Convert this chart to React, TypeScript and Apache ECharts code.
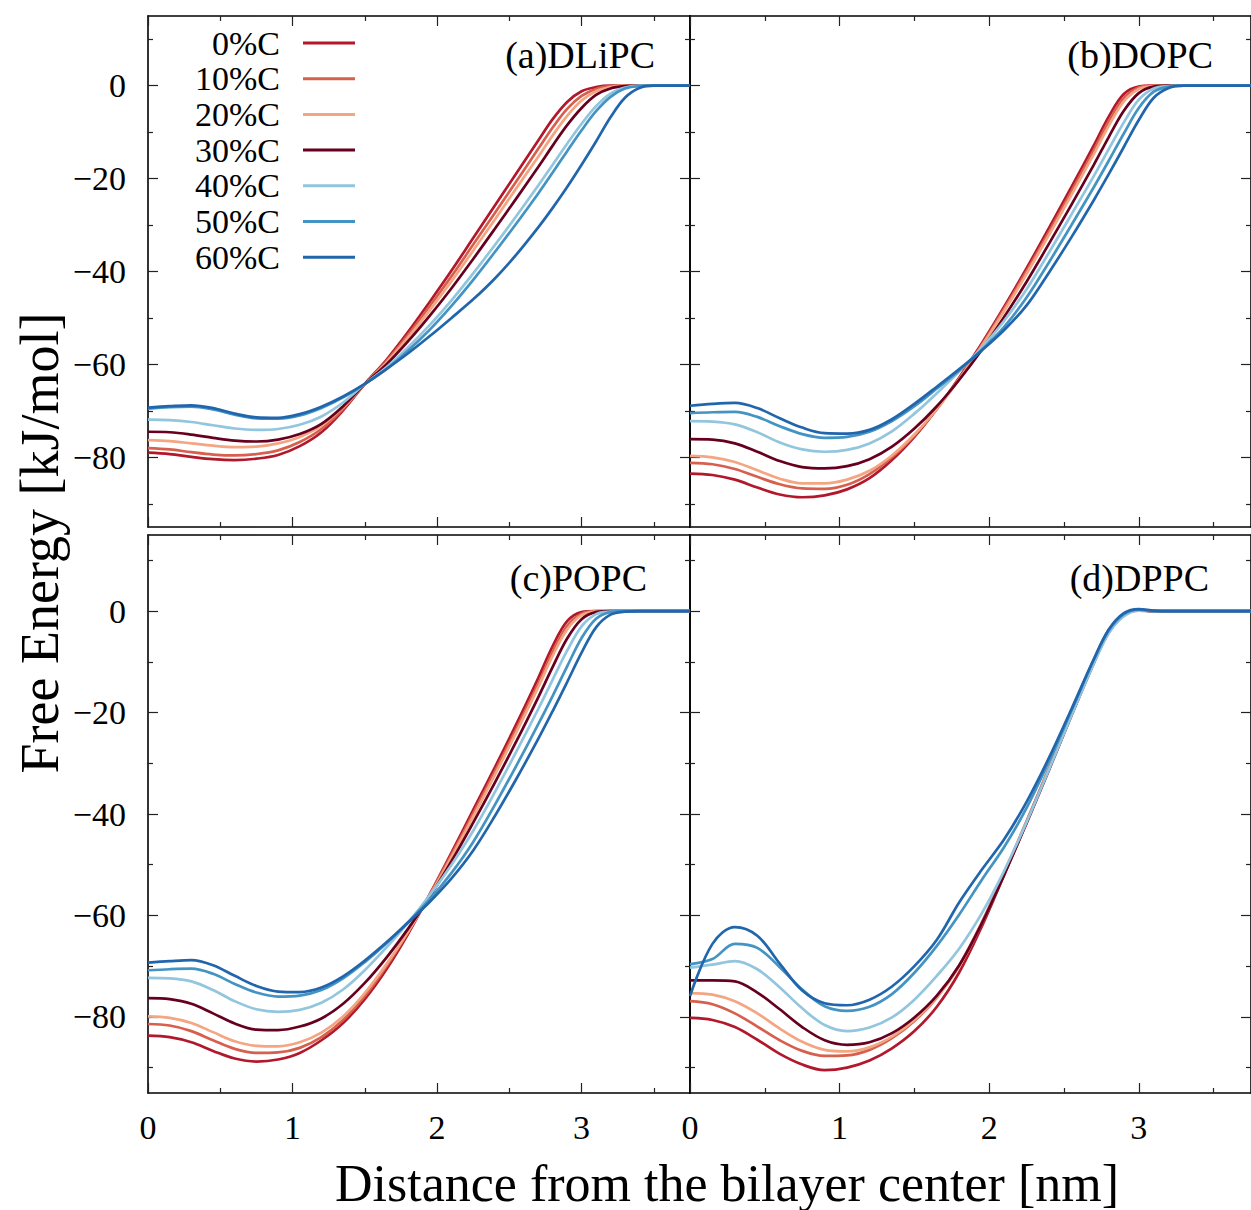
import React, { useEffect, useRef } from "react";
import * as echarts from "echarts";

// ---------- DATA ----------
const distance = [0, 0.15, 0.3, 0.45, 0.6, 0.75, 0.9, 1.05, 1.2, 1.35, 1.5, 1.65, 1.8, 1.95, 2.1, 2.25, 2.4, 2.55, 2.7, 2.8, 2.9, 3.0, 3.1, 3.2, 3.3, 3.4, 3.5, 3.6, 3.75];
const seriesNames = ["0%C", "10%C", "20%C", "30%C", "40%C", "50%C", "60%C"];
const seriesColors = ["#b2182b", "#d6604d", "#f4a582", "#67001f", "#92c5de", "#4393c3", "#2166ac"];
const panelTitles = ["(a)DLiPC", "(b)DOPC", "(c)POPC", "(d)DPPC"];
const xMajorTicks = [0, 1, 2, 3];
const xMinorTicks = [0.5, 1.5, 2.5, 3.5];
const yMajorTicks = [-80, -60, -40, -20, 0];
const yMinorTicks = [-90, -70, -50, -30, -10, 10];

// (a) DLiPC
const dlipc0 = [-79.0, -79.3, -79.9, -80.4, -80.6, -80.3, -79.5, -77.6, -74.6, -69.9, -64.2, -59.0, -53.0, -46.5, -39.8, -32.8, -25.8, -18.8, -11.8, -7.2, -3.5, -1.2, -0.3, 0, 0, 0, 0, 0, 0];
const dlipc10 = [-78.0, -78.3, -78.9, -79.4, -79.6, -79.3, -78.5, -76.7, -73.9, -69.6, -64.2, -59.3, -53.6, -47.4, -41.0, -34.2, -27.4, -20.5, -13.6, -9.0, -5.0, -2.2, -0.7, -0.1, 0, 0, 0, 0, 0];
const dlipc20 = [-76.3, -76.5, -77.0, -77.5, -77.8, -77.7, -77.0, -75.6, -73.2, -69.2, -64.2, -59.6, -54.2, -48.3, -42.1, -35.5, -28.8, -22.0, -15.3, -10.7, -6.5, -3.2, -1.2, -0.3, 0, 0, 0, 0, 0];
const dlipc30 = [-74.5, -74.6, -75.1, -75.8, -76.4, -76.6, -76.2, -75.0, -72.8, -69.0, -64.2, -60.0, -55.0, -49.5, -43.6, -37.3, -30.8, -24.2, -17.5, -12.9, -8.5, -4.8, -2.0, -0.6, -0.1, 0, 0, 0, 0];
const dlipc40 = [-71.9, -72.0, -72.4, -73.1, -73.8, -74.1, -73.9, -73.0, -71.2, -68.2, -64.2, -60.6, -56.3, -51.5, -46.2, -40.4, -34.3, -28.0, -21.5, -17.0, -12.5, -8.2, -4.4, -1.7, -0.4, 0, 0, 0, 0];
const dlipc50 = [-69.5, -69.2, -69.1, -69.7, -70.8, -71.6, -71.7, -71.0, -69.4, -67.1, -64.2, -61.0, -57.0, -52.5, -47.4, -41.8, -35.8, -29.6, -23.2, -18.7, -14.1, -9.6, -5.5, -2.4, -0.6, -0.1, 0, 0, 0];
const dlipc60 = [-69.3, -69.0, -68.8, -69.4, -70.6, -71.4, -71.5, -70.7, -69.1, -66.9, -64.2, -61.0, -57.6, -53.9, -50.0, -46.0, -41.5, -36.3, -30.5, -26.3, -21.8, -17.0, -12.0, -6.8, -2.6, -0.5, 0, 0, 0];

// (b) DOPC
const dopc0 = [-83.5, -83.8, -84.8, -86.5, -88.0, -88.6, -88.2, -86.9, -84.5, -80.6, -75.6, -69.6, -62.8, -55.5, -47.6, -39.3, -30.6, -21.8, -12.8, -6.6, -1.8, -0.2, 0, 0, 0, 0, 0, 0, 0];
const dopc10 = [-81.2, -81.5, -82.5, -84.2, -85.8, -86.7, -86.8, -85.9, -83.6, -80.0, -75.3, -69.6, -63.0, -55.8, -48.0, -39.9, -31.4, -22.7, -13.8, -7.6, -2.6, -0.4, 0, 0, 0, 0, 0, 0, 0];
const dopc20 = [-79.7, -80.0, -81.0, -82.8, -84.6, -85.6, -85.6, -84.8, -82.9, -79.6, -75.1, -69.6, -63.2, -56.1, -48.5, -40.5, -32.1, -23.5, -14.7, -8.6, -3.4, -0.7, -0.1, 0, 0, 0, 0, 0, 0];
const dopc30 = [-76.1, -76.2, -77.0, -78.8, -80.8, -82.1, -82.4, -81.9, -80.4, -77.7, -73.8, -69.0, -63.3, -56.9, -49.8, -42.2, -34.0, -25.6, -17.0, -11.0, -5.4, -1.6, -0.2, 0, 0, 0, 0, 0, 0];
const dopc40 = [-72.2, -72.3, -72.9, -74.6, -76.8, -78.3, -78.8, -78.4, -77.0, -74.4, -70.6, -66.2, -61.5, -56.4, -50.6, -43.8, -35.9, -27.7, -19.4, -13.6, -7.9, -3.0, -0.6, -0.1, 0, 0, 0, 0, 0];
const dopc50 = [-70.5, -70.3, -70.2, -71.3, -73.3, -75.0, -75.8, -75.6, -74.5, -72.2, -69.0, -65.2, -61.3, -56.9, -51.9, -45.6, -38.0, -30.0, -21.8, -16.1, -10.3, -4.8, -1.3, -0.2, 0, 0, 0, 0, 0];
const dopc60 = [-68.9, -68.5, -68.3, -69.4, -71.6, -73.6, -74.8, -74.9, -74.1, -71.8, -68.5, -64.8, -61.0, -57.0, -52.6, -47.3, -40.2, -32.6, -24.6, -19.0, -13.2, -7.4, -2.6, -0.5, 0, 0, 0, 0, 0];

// (c) POPC
const popc0 = [-83.7, -84.0, -85.0, -86.7, -88.2, -88.8, -88.4, -87.1, -84.6, -81.2, -76.5, -70.6, -63.6, -55.8, -47.6, -39.2, -30.8, -22.2, -13.2, -6.9, -2.0, -0.2, 0, 0, 0, 0, 0, 0, 0];
const popc10 = [-81.4, -81.7, -82.8, -84.6, -86.3, -87.1, -87.0, -86.1, -84.0, -80.6, -75.9, -70.0, -63.2, -55.8, -48.0, -39.9, -31.6, -23.1, -14.3, -8.0, -2.9, -0.5, 0, 0, 0, 0, 0, 0, 0];
const popc20 = [-79.9, -80.2, -81.2, -83.0, -84.8, -85.7, -85.8, -85.0, -83.1, -79.9, -75.3, -69.6, -63.2, -56.1, -48.5, -40.5, -32.3, -23.8, -15.0, -8.8, -3.6, -0.8, -0.1, 0, 0, 0, 0, 0, 0];
const popc30 = [-76.3, -76.5, -77.4, -79.3, -81.3, -82.5, -82.6, -81.9, -80.3, -77.4, -73.3, -68.3, -62.6, -56.3, -49.3, -41.7, -33.8, -25.6, -17.0, -11.0, -5.4, -1.6, -0.2, 0, 0, 0, 0, 0, 0];
const popc40 = [-72.3, -72.4, -73.0, -74.7, -76.9, -78.5, -79.0, -78.6, -77.2, -74.6, -70.8, -66.3, -61.4, -56.0, -50.0, -43.3, -35.7, -27.6, -19.3, -13.5, -7.8, -3.0, -0.6, -0.1, 0, 0, 0, 0, 0];
const popc50 = [-70.8, -70.6, -70.5, -71.5, -73.5, -75.2, -76.0, -75.8, -74.7, -72.4, -69.2, -65.5, -61.3, -56.8, -51.6, -45.5, -38.2, -30.4, -22.3, -16.7, -10.9, -5.3, -1.5, -0.2, 0, 0, 0, 0, 0];
const popc60 = [-69.3, -69.0, -68.8, -69.8, -71.9, -73.9, -75.0, -75.1, -74.2, -72.0, -68.9, -65.3, -61.4, -57.3, -52.7, -47.2, -40.4, -33.0, -25.2, -19.7, -14.0, -8.2, -3.2, -0.7, -0.1, 0, 0, 0, 0];

// (d) DPPC
const dppc0 = [-80.2, -80.6, -82.0, -84.5, -87.3, -89.4, -90.5, -90.0, -88.6, -86.2, -82.8, -78.0, -71.2, -62.2, -52.0, -41.6, -31.0, -20.2, -9.8, -4.0, -0.8, 0.2, 0, 0, 0, 0, 0, 0, 0];
const dppc10 = [-76.9, -77.5, -79.3, -81.9, -84.6, -86.7, -87.7, -87.6, -86.5, -84.2, -80.8, -76.2, -69.8, -61.4, -51.6, -41.4, -30.9, -20.1, -9.6, -3.7, -0.6, 0.1, 0, 0, 0, 0, 0, 0, 0];
const dppc20 = [-75.3, -75.6, -76.9, -79.3, -82.3, -84.9, -86.5, -86.8, -86.0, -83.9, -80.6, -76.1, -70.0, -61.6, -51.8, -41.6, -31.0, -20.3, -9.9, -4.0, -0.8, 0.2, 0, 0, 0, 0, 0, 0, 0];
const dppc30 = [-72.8, -72.8, -73.0, -75.2, -78.5, -82.0, -84.6, -85.5, -85.0, -83.2, -80.1, -75.8, -69.8, -61.6, -52.0, -41.8, -31.3, -20.6, -10.2, -4.2, -0.9, 0.2, 0, 0, 0, 0, 0, 0, 0];
const dppc40 = [-70.3, -69.7, -69.0, -70.6, -74.2, -78.3, -81.6, -82.8, -82.1, -80.1, -76.6, -71.9, -66.5, -59.6, -51.2, -41.6, -31.2, -20.6, -10.3, -4.3, -1.0, 0.1, 0, 0, 0, 0, 0, 0, 0];
const dppc50 = [-69.6, -68.6, -65.6, -66.4, -70.2, -74.6, -77.9, -78.8, -78.0, -75.5, -71.3, -66.0, -59.8, -53.0, -46.5, -38.8, -29.6, -19.6, -9.6, -3.8, -0.6, 0.3, 0, 0, 0, 0, 0, 0, 0];
const dppc60 = [-75.9, -65.6, -62.3, -64.0, -69.5, -74.8, -77.3, -77.7, -76.6, -74.0, -70.0, -64.8, -57.4, -51.0, -45.0, -37.6, -28.9, -19.3, -9.4, -3.6, -0.4, 0.4, 0.1, 0, 0, 0, 0, 0, 0];

const panels = [
  [dlipc0, dlipc10, dlipc20, dlipc30, dlipc40, dlipc50, dlipc60],
  [dopc0, dopc10, dopc20, dopc30, dopc40, dopc50, dopc60],
  [popc0, popc10, popc20, popc30, popc40, popc50, popc60],
  [dppc0, dppc10, dppc20, dppc30, dppc40, dppc50, dppc60],
];

// ---------- LAYOUT ----------
const FONT = "'Liberation Serif', 'DejaVu Serif', serif";
const X_MAX = 3.75;
const Y_MIN = -95;
const Y_MAX = 15;
const gridBoxes = [
  { left: 148, top: 16, width: 542, height: 511 },
  { left: 690, top: 16, width: 570, height: 511 },
  { left: 148, top: 535, width: 542, height: 558 },
  { left: 690, top: 535, width: 570, height: 558 },
];

const fmt = (v: number) => (v < 0 ? "\u2212" + Math.abs(v) : String(v));

function buildOption() {
  const xAxes: any[] = [];
  const yAxes: any[] = [];
  gridBoxes.forEach((_, gi) => {
    const showX = gi >= 2;
    const showY = gi % 2 === 0;
    const xb = { gridIndex: gi, type: "value", min: 0, max: X_MAX, splitLine: { show: false } };
    const yb = { gridIndex: gi, type: "value", min: Y_MIN, max: Y_MAX, splitLine: { show: false } };
    const mk = (base: any, pos: string, major: boolean, label: boolean, vals: number[], labVals: number[]) => ({
      ...base,
      position: pos,
      axisLine: { show: major, onZero: false, lineStyle: { color: "#000", width: 1.6 } },
      axisTick: { show: true, inside: true, length: major ? 10 : 5, customValues: vals, lineStyle: { color: "#222", width: 1.2 } },
      axisLabel: {
        show: label,
        customValues: labVals,
        formatter: fmt,
        fontFamily: FONT,
        fontSize: 34,
        color: "#000",
        margin: pos === "bottom" ? 17 : 22,
      },
    });
    xAxes.push(mk(xb, "bottom", true, showX, xMajorTicks, xMajorTicks));
    xAxes.push(mk(xb, "bottom", false, false, xMinorTicks, []));
    xAxes.push(mk(xb, "top", true, false, xMajorTicks, []));
    xAxes.push(mk(xb, "top", false, false, xMinorTicks, []));
    yAxes.push(mk(yb, "left", true, showY, yMajorTicks, yMajorTicks));
    yAxes.push(mk(yb, "left", false, false, yMinorTicks, []));
    yAxes.push(mk(yb, "right", true, false, yMajorTicks, []));
    yAxes.push(mk(yb, "right", false, false, yMinorTicks, []));
  });

  const series: any[] = [];
  panels.forEach((curves, gi) => {
    curves.forEach((ys, si) => {
      series.push({
        type: "line",
        name: seriesNames[si],
        xAxisIndex: gi * 4,
        yAxisIndex: gi * 4,
        data: distance.map((x, i) => [x, ys[i]]),
        showSymbol: false,
        symbol: "none",
        smooth: 0.35,
        clip: true,
        lineStyle: { color: seriesColors[si], width: 2.7 },
        itemStyle: { color: seriesColors[si] },
        emphasis: { disabled: true },
      });
    });
  });

  const titleTexts = [
    { text: panelTitles[0], x: 655, y: 55 },
    { text: panelTitles[1], x: 1213, y: 55 },
    { text: panelTitles[2], x: 647, y: 578 },
    { text: panelTitles[3], x: 1209, y: 578 },
  ];

  return {
    animation: false,
    backgroundColor: "#fff",
    grid: gridBoxes.map((g) => ({ ...g, containLabel: false })),
    xAxis: xAxes,
    yAxis: yAxes,
    series,
    legend: {
      data: seriesNames,
      orient: "vertical",
      align: "right",
      left: 195,
      top: 26,
      padding: 0,
      icon: "rect",
      itemWidth: 52,
      itemHeight: 3,
      itemGap: 1.7,
      selectedMode: false,
      formatter: (name: string) => `{n|${name}}`,
      textStyle: {
        rich: {
          n: { fontFamily: FONT, fontSize: 34, color: "#000", lineHeight: 35, padding: [0, 18, 0, 0] },
        },
      },
    },
    graphic: [
      ...titleTexts.map((t) => ({
        type: "text",
        x: t.x,
        y: t.y,
        style: { text: t.text, fontFamily: FONT, fontSize: 38, fill: "#000", align: "right", verticalAlign: "middle" },
      })),
      {
        type: "text",
        x: 727,
        y: 1183,
        style: { text: "Distance from the bilayer center [nm]", fontFamily: FONT, fontSize: 52, fill: "#000", align: "center", verticalAlign: "middle" },
      },
      {
        type: "text",
        x: 40,
        y: 543,
        rotation: Math.PI / 2,
        style: { text: "Free Energy [kJ/mol]", fontFamily: FONT, fontSize: 54, fill: "#000", align: "center", verticalAlign: "middle" },
      },
    ],
  };
}

export default function App() {
  const ref = useRef<HTMLDivElement>(null);
  useEffect(() => {
    if (!ref.current) return;
    const chart = echarts.init(ref.current, undefined, { renderer: "svg" });
    chart.setOption(buildOption() as any);
    return () => chart.dispose();
  }, []);
  return (
    <div
      ref={ref}
      style={{ position: "fixed", left: 0, top: 0, width: 1251, height: 1210, background: "#fff" }}
    />
  );
}
